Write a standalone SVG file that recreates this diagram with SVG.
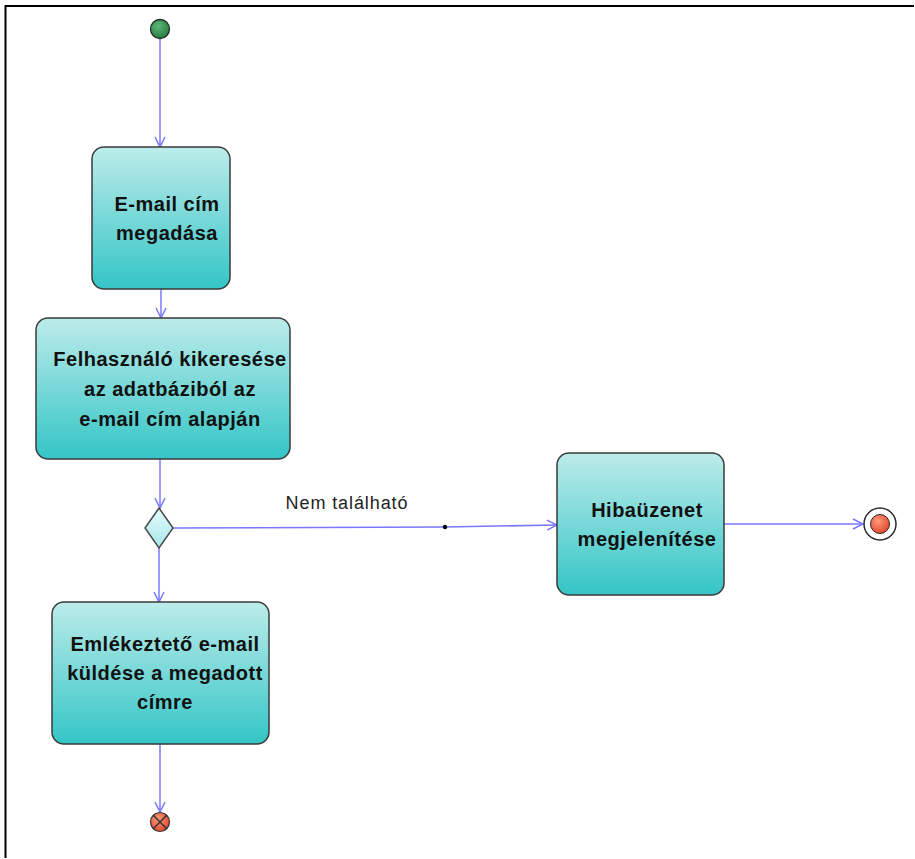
<svg xmlns="http://www.w3.org/2000/svg" width="915" height="859" viewBox="0 0 915 859">
<style>
.act{stroke:#3a3a3a;stroke-width:1.5;fill:url(#g)}
.t{font-family:"Liberation Sans",Arial,sans-serif;font-weight:bold;font-size:20px;letter-spacing:0.5px;fill:#111;text-anchor:middle}
.lbl{font-family:"Liberation Sans",Arial,sans-serif;font-size:18px;letter-spacing:0.9px;fill:#222;text-anchor:middle}
.c{stroke:#7878ff;stroke-width:1.5;fill:none}
</style>
<defs>
<linearGradient id="g" x1="0" y1="0" x2="0" y2="1">
<stop offset="0" stop-color="#bcecea"/>
<stop offset="1" stop-color="#34c5c6"/>
</linearGradient>
<linearGradient id="dg" x1="0" y1="0" x2="0" y2="1">
<stop offset="0" stop-color="#e4fafa"/>
<stop offset="1" stop-color="#a6e8ea"/>
</linearGradient>
<radialGradient id="gr" cx="0.4" cy="0.35" r="0.7">
<stop offset="0" stop-color="#5fb87a"/>
<stop offset="1" stop-color="#1f7a3e"/>
</radialGradient>
<radialGradient id="rd" cx="0.4" cy="0.35" r="0.7">
<stop offset="0" stop-color="#ff9a7a"/>
<stop offset="1" stop-color="#e0432a"/>
</radialGradient>
<marker id="a" viewBox="0 0 12 12" refX="11" refY="6" markerWidth="12" markerHeight="12" markerUnits="userSpaceOnUse" orient="auto">
<path d="M1,1 L11,6 L1,11" fill="none" stroke="#7878ff" stroke-width="1.5"/>
</marker>
</defs>
<rect width="915" height="859" fill="#fff"/>
<path d="M5.5,858 V6 H914" fill="none" stroke="#000" stroke-width="2"/>
<g id="connectors">
<line class="c" x1="160" y1="39" x2="160" y2="147" marker-end="url(#a)"/>
<line class="c" x1="161" y1="289" x2="161" y2="318" marker-end="url(#a)"/>
<line class="c" x1="160" y1="459" x2="160" y2="508" marker-end="url(#a)"/>
<polyline class="c" points="173,528 445,527 557,525" marker-end="url(#a)"/>
<circle cx="445" cy="527" r="2.2" fill="#000"/>
<text class="lbl" x="347" y="509">Nem található</text>
<line class="c" x1="159" y1="548" x2="159" y2="602" marker-end="url(#a)"/>
<line class="c" x1="724" y1="524" x2="863" y2="524" marker-end="url(#a)"/>
<line class="c" x1="160" y1="744" x2="160" y2="812" marker-end="url(#a)"/>
</g>
<g id="start">
<circle cx="160" cy="29" r="9.5" fill="url(#gr)" stroke="#2a2a2a" stroke-width="1.3"/>
</g>
<g id="n1">
<rect class="act" x="92" y="147" width="138" height="142" rx="12"/>
<text class="t" x="167" y="211">E-mail cím</text>
<text class="t" x="167" y="240">megadása</text>
</g>
<g id="n2">
<rect class="act" x="36" y="318" width="254" height="141" rx="12"/>
<text class="t" x="170" y="366">Felhasználó kikeresése</text>
<text class="t" x="170" y="396">az adatbáziból az</text>
<text class="t" x="170" y="426">e-mail cím alapján</text>
</g>
<g id="decision">
<polygon points="159,508 173,528 159,548 145,528" fill="url(#dg)" stroke="#4a4a4a" stroke-width="1.5"/>
</g>
<g id="n3">
<rect class="act" x="557" y="453" width="167" height="142" rx="12"/>
<text class="t" x="647" y="517">Hibaüzenet</text>
<text class="t" x="647" y="546">megjelenítése</text>
</g>
<g id="n4">
<rect class="act" x="52" y="602" width="217" height="142" rx="12"/>
<text class="t" x="165" y="651">Emlékeztető e-mail</text>
<text class="t" x="165" y="680">küldése a megadott</text>
<text class="t" x="165" y="709">címre</text>
</g>
<g id="end">
<circle cx="880" cy="524" r="16" fill="#fff" stroke="#2a2a2a" stroke-width="1.5"/>
<circle cx="880" cy="524" r="9.5" fill="url(#rd)" stroke="#2a2a2a" stroke-width="1"/>
</g>
<g id="flowfinal">
<circle cx="160" cy="822" r="9.5" fill="url(#rd)" stroke="#333" stroke-width="1.2"/>
<path d="M153.3,815.3 L166.7,828.7 M166.7,815.3 L153.3,828.7" stroke="#333" stroke-width="1.5"/>
</g>
</svg>
